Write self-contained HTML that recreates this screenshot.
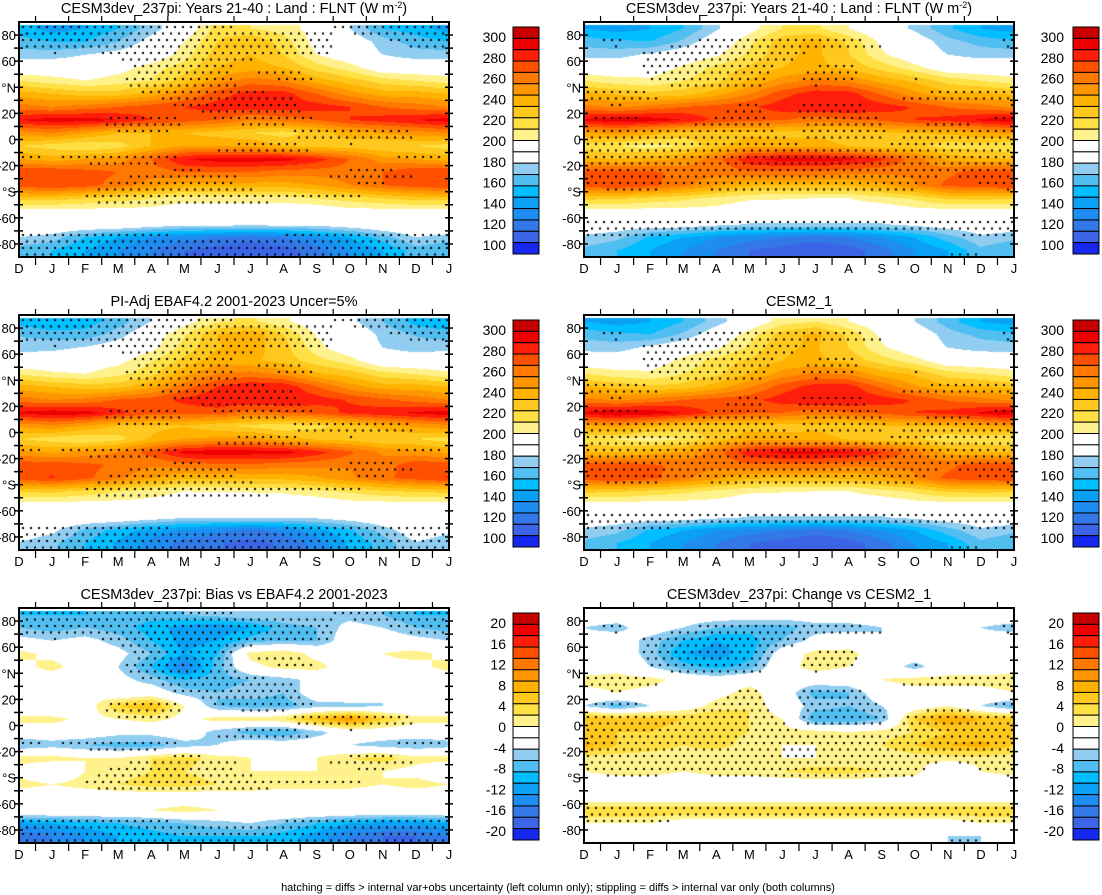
<!DOCTYPE html>
<html><head><meta charset="utf-8">
<style>
html,body{margin:0;padding:0;background:#fff;}
#wrap{position:relative;width:1102px;height:895px;overflow:hidden;font-family:"Liberation Sans",sans-serif;}
canvas{position:absolute;}
svg{position:absolute;left:0;top:0;}
</style></head>
<body>
<div id="wrap">
<svg id="ov" width="1102" height="895"></svg>
</div>
<script>
const monthLabels = ["D","J","F","M","A","M","J","J","A","S","O","N","D","J"];
const latRows = [85,75,65,55,45,35,25,15,5,-5,-15,-25,-35,-45,-55,-65,-75,-85];
const latTickLabels = ["80","60","°N","20","0","-20","°S","-60","-80"];
const absTickLabels = ["300","280","260","240","220","200","180","160","140","120","100"];
const diffTickLabels = ["20","16","12","8","4","0","-4","-8","-12","-16","-20"];
// months J..D per latitude row
const modelFlnt = [
[155,160,170,185,200,225,220,215,205,190,170,165],
[170,170,180,195,210,230,240,225,205,200,185,175],
[185,190,195,200,215,235,240,230,210,200,190,185],
[200,200,205,215,225,240,245,240,225,215,200,200],
[215,210,215,220,235,255,265,260,245,235,225,220],
[240,235,235,245,260,275,285,285,270,255,245,245],
[260,265,270,275,280,285,285,285,285,280,270,265],
[295,295,290,280,275,270,260,265,270,280,285,290],
[260,250,240,240,240,235,230,225,235,245,250,255],
[225,220,225,240,250,250,250,240,235,235,230,230],
[245,250,255,270,290,295,295,295,285,270,255,250],
[280,275,270,265,270,270,270,265,265,265,270,280],
[280,275,265,255,245,245,245,245,250,260,270,275],
[235,230,225,220,215,215,215,215,220,225,230,235],
[205,205,205,205,200,200,200,200,200,205,205,205],
[205,205,205,200,195,195,195,195,195,200,205,205],
[185,170,160,150,145,140,135,140,150,160,175,190],
[170,160,150,140,130,125,120,125,135,150,160,175]];
const modelFlntB = [
[155,160,170,188,205,220,222,210,198,188,172,160],
[172,170,182,200,217,236,243,228,207,198,184,176],
[186,192,200,208,222,238,242,231,212,200,190,186],
[200,203,212,223,232,240,243,238,226,214,200,200],
[214,212,220,227,241,255,263,259,246,238,226,220],
[238,233,235,246,260,276,286,285,269,253,243,243],
[258,264,270,274,278,286,290,289,285,279,269,264],
[298,296,290,278,272,271,264,269,272,280,284,292],
[254,244,235,235,237,234,236,231,238,240,241,248],
[220,215,221,236,247,248,248,239,233,232,225,225],
[240,246,252,266,288,294,294,293,282,265,248,242],
[277,272,267,263,268,268,268,263,263,262,267,277],
[279,274,263,252,241,240,240,241,247,259,273,277],
[232,227,223,217,212,211,210,210,216,222,232,233],
[205,205,205,205,200,200,200,200,200,205,205,205],
[199,199,199,194,189,189,189,189,189,194,199,199],
[183,168,160,150,145,140,135,140,150,160,175,188],
[170,160,150,140,130,125,120,125,135,150,160,177]];
const obsFlnt = [
[160,165,175,190,205,218,222,212,202,193,180,166],
[175,174,185,202,219,240,248,230,209,201,187,179],
[187,191,198,206,224,239,245,234,214,200,190,186],
[199,200,206,219,233,246,242,236,224,215,198,197],
[212,210,217,226,247,260,264,257,242,235,224,219],
[240,235,236,248,266,280,289,288,271,255,245,245],
[260,263,271,275,283,289,288,289,285,279,272,266],
[297,295,284,272,273,274,265,270,273,283,287,292],
[257,249,238,237,239,232,227,221,227,234,244,252],
[225,220,226,241,250,253,255,246,238,235,230,230],
[248,254,260,275,293,297,295,295,285,272,258,254],
[277,273,268,261,265,267,268,264,263,261,265,277],
[281,273,262,251,241,242,243,243,248,258,268,274],
[233,227,221,215,210,211,211,212,217,222,228,232],
[205,205,205,205,200,200,200,200,200,205,205,205],
[203,203,203,198,192,193,194,193,193,198,203,203],
[193,177,166,155,149,143,137,144,156,168,184,199],
[182,170,158,147,136,131,126,132,144,162,174,189]];
const cesm2Flnt = [
[155,160,170,185,200,215,220,210,200,190,175,160],
[173,170,182,199,215,235,243,228,207,200,185,177],
[185,193,201,208,222,239,241,230,212,200,190,186],
[200,203,213,224,232,240,242,237,225,215,200,200],
[214,212,220,227,240,254,262,258,245,238,225,220],
[237,232,234,245,259,275,285,285,268,252,242,242],
[258,264,270,274,277,285,290,289,285,279,269,264],
[300,297,290,277,271,270,263,269,272,280,283,292],
[253,243,234,234,236,233,236,231,239,239,240,247],
[219,214,220,235,246,247,247,238,232,231,224,224],
[239,245,251,265,287,293,293,292,281,264,247,241],
[277,272,267,263,268,268,268,263,263,262,267,277],
[279,274,263,252,241,240,240,241,247,259,273,277],
[232,227,223,217,212,211,210,210,216,222,232,233],
[205,205,205,205,200,200,200,200,200,205,205,205],
[199,199,199,194,189,189,189,189,189,194,199,199],
[183,168,160,150,145,140,135,140,150,160,175,188],
[170,160,150,140,130,125,120,125,135,150,160,177]];
const biasVals = [
[-6,-6,-5,-5,-4,-3,-2,-2,-2,-3,-4,-6],
[-5,-4,-5,-7,-9,-10,-8,-5,-4,-1,-2,-4],
[-2,-1,-3,-6,-9,-8,-5,-4,-4,0,0,-1],
[1,0,-1,-4,-8,-6,3,4,1,0,2,3],
[3,0,-2,-6,-12,-5,1,3,3,0,1,1],
[0,0,-1,-3,-6,-5,-4,-3,-1,0,0,0],
[0,2,-1,0,-3,-4,-3,-4,0,1,-2,-1],
[-2,0,6,8,2,-4,-5,-5,-3,-3,-2,-2],
[3,1,2,3,1,3,3,4,8,11,6,3],
[0,0,-1,-1,0,-3,-5,-6,-3,0,0,0],
[-3,-4,-5,-5,-3,-2,0,0,0,-2,-3,-4],
[3,2,2,4,5,3,2,1,2,4,5,3],
[-1,2,3,4,4,3,2,2,2,2,2,1],
[2,3,4,5,5,4,4,3,3,3,2,3],
[0,0,0,0,0,0,0,0,0,0,0,0],
[2,2,2,2,3,2,1,2,2,2,2,2],
[-8,-7,-6,-5,-4,-3,-2,-4,-6,-8,-9,-9],
[-12,-10,-8,-7,-6,-6,-6,-7,-9,-12,-14,-14]];
const changeVals = [
[0,0,0,0,0,0,0,0,0,0,0,0],
[-3,0,-2,-4,-5,-5,-3,-3,-2,0,0,-2],
[0,-3,-6,-8,-7,-4,-1,0,-2,0,0,-1],
[0,-3,-8,-9,-7,0,3,3,0,0,0,0],
[1,-2,-5,-7,-5,1,3,2,0,-3,0,0],
[3,3,1,0,1,0,0,0,2,3,3,3],
[2,1,0,1,3,0,-5,-4,0,1,1,1],
[-5,-2,0,3,4,0,-3,-4,-2,0,2,-2],
[7,7,6,6,4,2,-6,-6,-4,6,10,8],
[6,6,5,5,4,3,3,2,3,4,6,6],
[6,5,4,5,3,2,2,3,4,6,8,9],
[3,3,3,2,2,2,2,2,2,3,3,3],
[3,3,2,3,3,4,5,5,4,3,-2,2],
[0,0,0,0,0,0,0,0,0,0,0,0],
[0,0,0,0,0,0,0,0,0,0,0,0],
[6,6,6,6,6,6,6,6,6,6,6,6],
[2,2,0,0,0,0,0,0,0,0,0,2],
[0,0,0,0,0,0,0,0,0,0,-2,-2]];

const palette = [[200,0,0],[238,0,0],[255,30,10],[255,80,0],[255,120,0],[255,150,0],[255,178,0],[255,200,30],[255,225,70],[255,242,140],[255,255,255],[255,255,255],[145,205,240],[80,190,240],[0,190,255],[10,160,245],[30,140,240],[50,120,230],[60,100,230],[20,40,240]];

const ov = document.getElementById('ov');
const wrap = document.getElementById('wrap');
const NS = 'http://www.w3.org/2000/svg';
function mk(tag, attrs, parent){const e=document.createElementNS(NS,tag);for(const k in attrs)e.setAttribute(k,attrs[k]);(parent||ov).appendChild(e);return e;}

const PW=430, PH=235;
function sample(data, mFrac, lat){
  let r=(85-lat)/10; r=Math.max(0,Math.min(17,r));
  const r0=Math.floor(r), r1=Math.min(17,r0+1), fr=r-r0;
  const c0=Math.floor(mFrac), fc=mFrac-c0;
  const ci=i=>((i+11)%12+12)%12;
  const a=data[r0][ci(c0)], b=data[r0][ci(c0+1)], c=data[r1][ci(c0)], d=data[r1][ci(c0+1)];
  return (a*(1-fc)+b*fc)*(1-fr)+(c*(1-fc)+d*fc)*fr;
}
function xOf(m){return m/13*PW;}
function yOf(lat){return (90-lat)/180*PH;}

function drawPanel(p){
  const cv=document.createElement('canvas');
  cv.width=PW;cv.height=PH;cv.style.left=p.x+'px';cv.style.top=p.y+'px';
  
  
  wrap.insertBefore(cv, ov);
  const ctx=cv.getContext('2d');
  const img=ctx.createImageData(PW,PH);
  for(let py=0;py<PH;py++){
    const lat=90-(py+0.5)/PH*180;
    for(let px=0;px<PW;px++){
      const m=(px+0.5)/PW*13;
      const v=sample(p.data,m,lat);
      let k=Math.floor((p.top+p.step-v)/p.step);k=Math.max(0,Math.min(19,k));
      let col=palette[k];
      if(lat>87.5) col=[255,255,255];
      const i=(py*PW+px)*4;img.data[i]=col[0];img.data[i+1]=col[1];img.data[i+2]=col[2];img.data[i+3]=255;
    }
  }
  ctx.putImageData(img,0,0);
  ctx.fillStyle='#000';
  for(let i=0;i*6.5<PH;i++){
    const yy=4+i*6.5; const lat=90-yy/PH*180; if(lat>87||lat<-88) continue;
    for(let j=0;j*8<PW;j++){
      const xx=3+j*8+(i%2)*4; if(xx>PW-2) continue;
      const mv=sample(p.mask,xx/PW*13,lat);
      if(Math.abs(mv)>=p.thr) ctx.fillRect(xx,yy,2,2);
    }
  }
  const g=mk('g',{});
  
  
  const fr=mk('rect',{x:p.x,y:p.y,width:PW,height:PH,fill:'none',stroke:'#000','stroke-width':2},g);
  
  
  for(let lat=80;lat>=-80;lat-=10){
    const yy=p.y+yOf(lat);
    mk('line',{x1:p.x-5,x2:p.x+4,y1:yy,y2:yy,stroke:'#000','stroke-width':1.5},g);
    mk('line',{x1:p.x+PW-4,x2:p.x+PW+4,y1:yy,y2:yy,stroke:'#000','stroke-width':1.5},g);
  }
  latTickLabels.forEach((t,i)=>{
    const yy=p.y+yOf(80-20*i);
    const tx=mk('text',{x:p.x-3,y:yy+5,'text-anchor':'end','font-size':13},g);tx.textContent=t;
    
    
  });
  for(let k=0;k<13;k++){
    const xx=p.x+xOf(k+0.5);
    mk('line',{x1:xx,x2:xx,y1:p.y-6,y2:p.y,stroke:'#000','stroke-width':1.2},g);
    mk('line',{x1:xx,x2:xx,y1:p.y+PH,y2:p.y+PH+8,stroke:'#000','stroke-width':1.2},g);
  }
  monthLabels.forEach((t,i)=>{
    const tx=mk('text',{x:p.x+xOf(i),y:p.y+PH+16,'text-anchor':'middle','font-size':13},g);tx.textContent=t;
    
    
  });
  const tt=mk('text',{x:p.x+PW/2,y:p.y-9,'text-anchor':'middle','font-size':14.5},g);
  
  
  tt.innerHTML=p.title;
  const cbx=p.cbx, cby=p.y+5, bh=11.35;
  const cb=mk('g',{});
  
  
  for(let k=0;k<20;k++){
    const c=palette[k];
    mk('rect',{x:cbx,y:cby+k*bh,width:26,height:bh,fill:`rgb(${c[0]},${c[1]},${c[2]})`,stroke:'#000','stroke-width':1},cb);
  }
  const n=p.ticks.length;
  p.ticks.forEach((t,i)=>{
    const yy=cby+10+i*(208/(n-1));
    const tx=mk('text',{x:p.cbl,y:yy+5,'text-anchor':'end','font-size':14},cb);tx.textContent=t;
    
    
  });
}
const ttl='CESM3dev_237pi: Years 21-40 : Land : FLNT (W m<tspan dy="-5" font-size="9">-2</tspan><tspan dy="5">)</tspan>';
const panels=[
 {name:'model-panel',x:19,y:22,data:modelFlnt,top:300,step:10,mask:biasVals,thr:2.5,title:ttl,cbx:513,cbl:506,ticks:absTickLabels},
 {name:'model-panel-right',x:584,y:22,data:modelFlntB,top:300,step:10,mask:changeVals,thr:2,title:ttl,cbx:1073,cbl:1064,ticks:absTickLabels},
 {name:'obs-panel',x:19,y:315,data:obsFlnt,top:300,step:10,mask:biasVals,thr:2.5,title:'PI-Adj EBAF4.2 2001-2023 Uncer=5%',cbx:513,cbl:506,ticks:absTickLabels},
 {name:'cesm2-panel',x:584,y:315,data:cesm2Flnt,top:300,step:10,mask:changeVals,thr:2,title:'CESM2_1',cbx:1073,cbl:1064,ticks:absTickLabels},
 {name:'bias-panel',x:19,y:608,data:biasVals,top:20,step:2,mask:biasVals,thr:2.5,title:'CESM3dev_237pi: Bias vs EBAF4.2 2001-2023',cbx:513,cbl:506,ticks:diffTickLabels},
 {name:'change-panel',x:584,y:608,data:changeVals,top:20,step:2,mask:changeVals,thr:2,title:'CESM3dev_237pi: Change vs CESM2_1',cbx:1073,cbl:1064,ticks:diffTickLabels}
];
panels.forEach(drawPanel);
const foot=mk('text',{x:558,y:891,'text-anchor':'middle','font-size':11});


foot.textContent='hatching = diffs > internal var+obs uncertainty (left column only); stippling = diffs > internal var only (both columns)';
</script>
</body></html>
